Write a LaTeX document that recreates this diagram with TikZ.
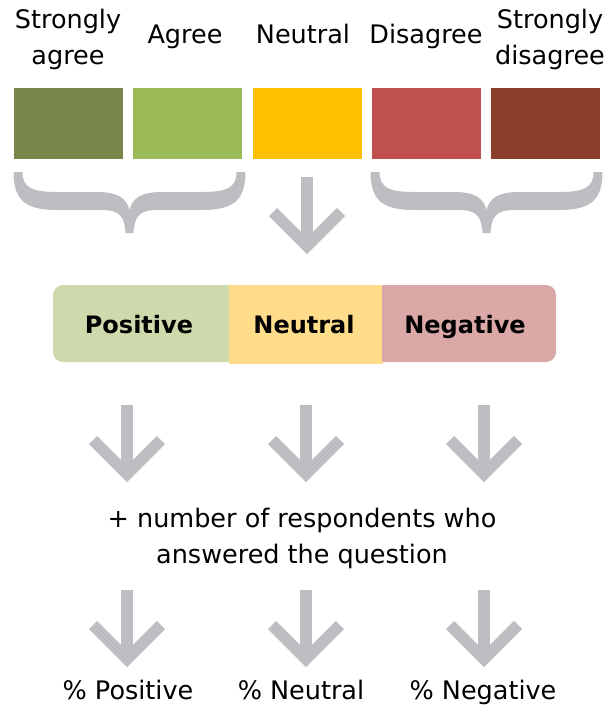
\documentclass[tikz,border=0pt]{standalone}
\usepackage{fontspec}
\setmainfont{DejaVu Sans}
\usetikzlibrary{positioning}
\definecolor{sagree}{HTML}{77884A}
\definecolor{agree}{HTML}{9BBB59}
\definecolor{neutral}{HTML}{FFC000}
\definecolor{disagree}{HTML}{C0504D}
\definecolor{sdisagree}{HTML}{8A3F2D}
\definecolor{posfill}{HTML}{CFDAAC}
\definecolor{neufill}{HTML}{FFDC8A}
\definecolor{negfill}{HTML}{D9A8A7}
\definecolor{arrowgray}{HTML}{BDBEC1}

\begin{document}
\begin{tikzpicture}[x=1pt, y=-1pt,
      scalebox/.style={minimum width=109pt, minimum height=71pt, inner sep=0pt},
      lbl/.style={font=\fontsize{25.5}{36}\selectfont, align=center, anchor=base, inner sep=0pt},
      barlbl/.style={font=\fontsize{24}{30}\selectfont\bfseries, anchor=base, inner sep=0pt},
      grayline/.style={draw=arrowgray, line width=11.5pt, line cap=butt, miter limit=4},
      pics/gbrace/.style={code={
        \fill[arrowgray]
          (-116,0) .. controls (-116,30) and (-102,38) .. (-72,38) -- (-28,38)
          .. controls (-10,38) and (-5,44) .. (-4,61) -- (4,61)
          .. controls (5,44) and (10,38) .. (28,38) -- (72,38)
          .. controls (102,38) and (116,30) .. (116,0) -- (107,0)
          .. controls (107,16) and (97,20) .. (72,20) -- (32,20)
          .. controls (12,20) and (3,26) .. (0,38)
          .. controls (-3,26) and (-12,20) .. (-32,20) -- (-72,20)
          .. controls (-97,20) and (-107,16) .. (-107,0) -- cycle;}},
      pics/garrow/.style={code={
        \draw[grayline] (0,0) -- (0,66);
        \draw[grayline, line join=miter] (-34,35) -- (0,69) -- (34,35);}}
    ]
      \useasboundingbox (0,0) rectangle (607,706);

      % Answer scale
      \node[lbl] (lsagree) at (68,65) {Strongly\\agree};
      \node[lbl] (lagree) at (185,44) {Agree};
      \node[lbl] (lneutral) at (303,44) {Neutral};
      \node[lbl] (ldisagree) at (426,44) {Disagree};
      \node[lbl] (lsdisagree) at (550,65) {Strongly\\disagree};

      \node[scalebox, fill=sagree] (sagree) at (68.5,123.5) {};
      \node[scalebox, fill=agree] (agree) at (187.5,123.5) {};
      \node[scalebox, fill=neutral] (neutral) at (307,123.5) {};
      \node[scalebox, fill=disagree] (disagree) at (426.5,123.5) {};
      \node[scalebox, fill=sdisagree] (sdisagree) at (545.5,123.5) {};

      % Grouping
      \pic at (129.5,172) {gbrace};
      \pic at (307,177) {garrow};
      \pic at (486.5,172) {gbrace};

      % Grouped bar
      \fill[posfill] (230,285) [rounded corners=10pt] -- (53,285) -- (53,362) [sharp corners] -- (230,362) -- cycle;
      \fill[neufill] (229,285) rectangle (383,363.5);
      \fill[negfill] (382,285) [rounded corners=10pt] -- (556,285) -- (556,362) [sharp corners] -- (382,362) -- cycle;
      \node[barlbl] (positive) at (139,333) {Positive};
      \node[barlbl] (neutralgrp) at (304,333) {Neutral};
      \node[barlbl] (negative) at (465,333) {Negative};

      % Counting
      \pic at (127,405) {garrow};
      \pic at (306,405) {garrow};
      \pic at (484,405) {garrow};
      \node[lbl] (respondents) at (302,563) {+ number of respondents who\\answered the question};
      \pic at (127,590) {garrow};
      \pic at (306,590) {garrow};
      \pic at (484,590) {garrow};

      % Results
      \node[lbl] (ppositive) at (128,699) {\% Positive};
      \node[lbl] (pneutral) at (301,699) {\% Neutral};
      \node[lbl] (pnegative) at (483,699) {\% Negative};
    \end{tikzpicture}
\end{document}
